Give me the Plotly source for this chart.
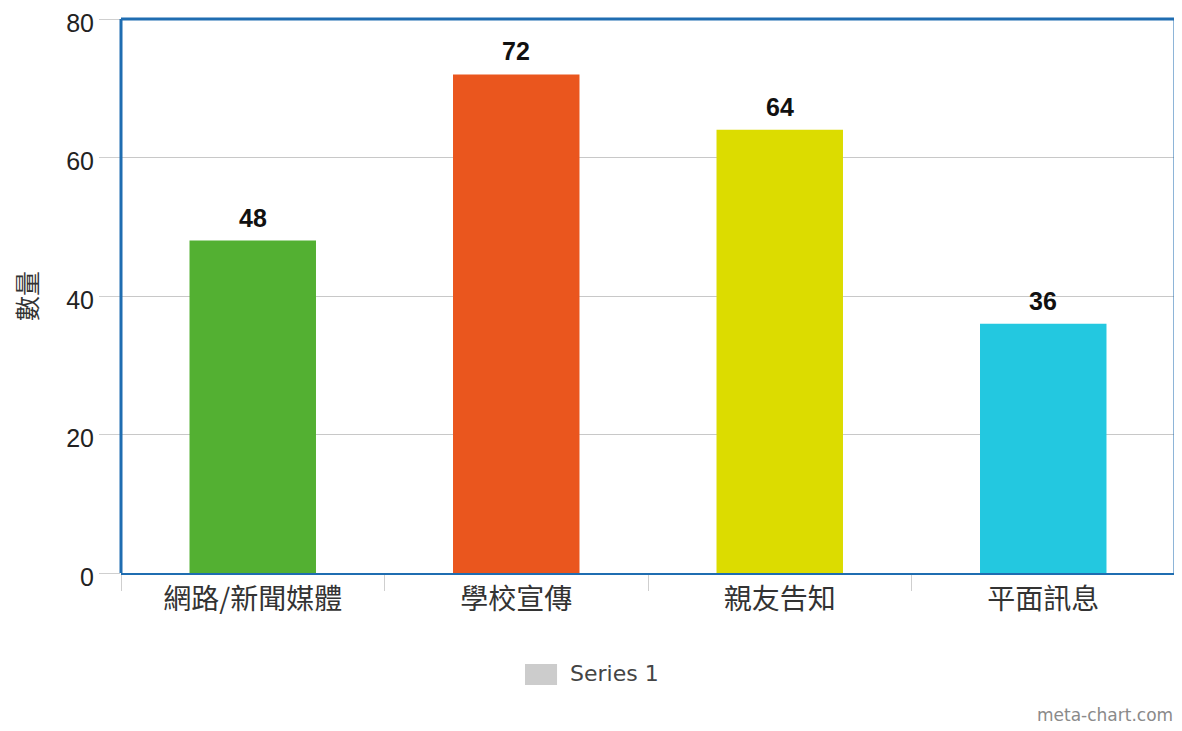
import plotly.graph_objects as go

categories = ["網路/新聞媒體", "學校宣傳", "親友告知", "平面訊息"]
values = [48, 72, 64, 36]
bar_colors = ["#53b032", "#ea561e", "#dcdc00", "#23c8e0"]
y_ticks = [0, 20, 40, 60, 80]
series_name = "Series 1"

fig = go.Figure()
fig.add_trace(go.Bar(
    x=categories, y=values,
    marker=dict(color=bar_colors, line=dict(width=0)),
    width=0.48,
    showlegend=False,
    hoverinfo="x+y",
))

# value labels placed via data coordinates
label_annotations = [
    dict(x=c, y=v, xref="x", yref="y", text=f"<b>{v}</b>", showarrow=False,
         yanchor="bottom", yshift=7,
         font=dict(family="Liberation Sans, Arial", size=25, color="#111111"))
    for c, v in zip(categories, values)
]

blue = "#1f6db1"
# page body has an 8px default margin; figure sized/margined to compensate
fig.update_layout(
    width=1174, height=723,
    autosize=False,
    margin=dict(l=113, r=7, t=11, b=158, autoexpand=False),
    paper_bgcolor="white", plot_bgcolor="white",
    showlegend=False,
    xaxis=dict(
        type="category",
        tickson="boundaries", ticks="outside", ticklen=16, tickcolor="#cfcfcf", tickwidth=1,
        showgrid=False, showline=True, linecolor=blue, linewidth=2,
        tickfont=dict(family="Noto Sans CJK TC", size=28, color="#333333"),
        tickangle=0, automargin=False,
        range=[-0.5, 3.5],
    ),
    yaxis=dict(
        range=[0, 80], tickvals=y_ticks,
        ticks="outside", ticklen=21, tickcolor="#cfcfcf", tickwidth=1,
        showgrid=True, gridcolor="#c8c8c8", gridwidth=1,
        zeroline=False, showline=False, automargin=False,
        ticklabeloverflow="allow", ticklabelshift=4,
        tickfont=dict(family="Liberation Sans, Arial", size=25, color="#222222"),
        title=dict(text="數量", standoff=22,
                   font=dict(family="Noto Sans CJK TC", size=25, color="#333333")),
    ),
    shapes=[
        dict(type="line", xref="paper", yref="paper", x0=0, x1=0, y0=0, y1=1,
             line=dict(color=blue, width=3)),
        dict(type="line", xref="paper", yref="paper", x0=0, x1=1, y0=1, y1=1,
             line=dict(color=blue, width=3)),
        dict(type="line", xref="paper", yref="paper", x0=1, x1=1, y0=0, y1=1,
             line=dict(color=blue, width=3)),
        # legend swatch
        dict(type="rect", xref="paper", yref="paper", x0=0.3833, x1=0.4137,
             y0=-0.2022, y1=-0.1643, fillcolor="#cccccc", line=dict(width=0)),
    ],
    annotations=label_annotations + [
        dict(text=series_name, xref="paper", yref="paper", x=0.4241, y=-0.1823,
             xanchor="left", yanchor="middle", showarrow=False,
             font=dict(family="DejaVu Sans, Verdana", size=22, color="#444444")),
        dict(text="meta-chart.com", xref="paper", yref="paper", x=1, y=-0.256,
             xanchor="right", yanchor="middle", showarrow=False,
             font=dict(family="DejaVu Sans, Verdana", size=17, color="#8a8a8a")),
    ],
)

fig.write_html("out.html")
